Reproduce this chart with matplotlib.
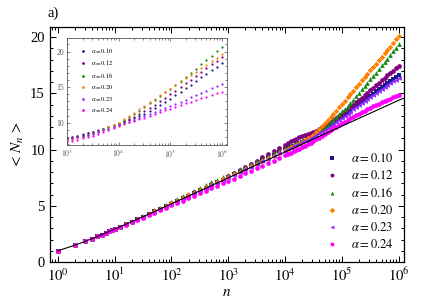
import numpy as np
import matplotlib
matplotlib.use("Agg")
import matplotlib.pyplot as plt
from matplotlib.ticker import LogLocator, MultipleLocator, NullFormatter

plt.rcParams['font.family'] = ['Liberation Serif', 'DejaVu Serif']
plt.rcParams['mathtext.fontset'] = 'stix'

# ---------------- data ----------------
alphas = ["0.10", "0.12", "0.16", "0.20", "0.23", "0.24"]
colors = ["#1a1a8c", "#800080", "#138a13", "#ff8000", "#8c2bff", "#ff00ff"]
markers = ["s", "o", "^", "D", "<", "o"]

# shared values at small n (all series coincide there)
n_small = [1, 2, 3, 4, 5, 6, 7, 8, 9, 10]
y_small = [1.0, 1.5, 1.83, 2.08, 2.28, 2.45, 2.59, 2.72, 2.83, 2.93]

# log10(n) sample points: 1.1 .. 3.9 (step 0.1) and 4.0 .. 6.0 (step 0.05)
log_lo = [1.1, 1.2, 1.3, 1.4, 1.5, 1.6, 1.7, 1.8, 1.9, 2.0,
          2.1, 2.2, 2.3, 2.4, 2.5, 2.6, 2.7, 2.8, 2.9, 3.0,
          3.1, 3.2, 3.3, 3.4, 3.5, 3.6, 3.7, 3.8, 3.9]
log_hi = [4.0, 4.05, 4.1, 4.15, 4.2, 4.25, 4.3, 4.35, 4.4, 4.45,
          4.5, 4.55, 4.6, 4.65, 4.7, 4.75, 4.8, 4.85, 4.9, 4.95,
          5.0, 5.05, 5.1, 5.15, 5.2, 5.25, 5.3, 5.35, 5.4, 5.45,
          5.5, 5.55, 5.6, 5.65, 5.7, 5.75, 5.8, 5.85, 5.9, 5.95, 6.0]

lo_010 = [3.12, 3.35, 3.58, 3.81, 4.04, 4.27, 4.50, 4.74, 4.97, 5.20,
          5.44, 5.67, 5.91, 6.14, 6.38, 6.62, 6.86, 7.10, 7.34, 7.58,
          7.82, 8.07, 8.32, 8.57, 8.82, 9.06, 9.30, 9.54, 9.78]
hi_010 = [10.01, 10.13, 10.24, 10.36, 10.47, 10.59, 10.70, 10.81, 10.93, 11.05,
          11.18, 11.32, 11.48, 11.65, 11.82, 12.0, 12.18, 12.36, 12.54, 12.72,
          12.9, 13.09, 13.28, 13.47, 13.66, 13.85, 14.04, 14.23, 14.42, 14.61,
          14.8, 14.99, 15.18, 15.37, 15.55, 15.74, 15.92, 16.11, 16.3, 16.48, 16.65]

lo_012 = [3.12, 3.35, 3.58, 3.81, 4.05, 4.28, 4.51, 4.75, 4.99, 5.23,
          5.47, 5.71, 5.95, 6.19, 6.43, 6.67, 6.91, 7.16, 7.41, 7.66,
          7.92, 8.18, 8.45, 8.73, 9.02, 9.30, 9.58, 9.87, 10.16]
hi_012 = [10.45, 10.59, 10.73, 10.86, 10.98, 11.08, 11.18, 11.27, 11.36, 11.45,
          11.55, 11.67, 11.8, 11.95, 12.1, 12.27, 12.45, 12.62, 12.8, 13.0,
          13.2, 13.4, 13.6, 13.8, 14.0, 14.2, 14.4, 14.62, 14.85, 15.07,
          15.3, 15.52, 15.75, 15.95, 16.15, 16.38, 16.6, 16.8, 17.0, 17.22, 17.45]

lo_016 = [3.14, 3.38, 3.62, 3.86, 4.10, 4.35, 4.59, 4.84, 5.08, 5.33,
          5.58, 5.83, 6.08, 6.33, 6.59, 6.84, 7.08, 7.31, 7.55, 7.78,
          8.01, 8.24, 8.48, 8.71, 8.95, 9.18, 9.42, 9.66, 9.90]
hi_016 = [10.14, 10.25, 10.37, 10.48, 10.60, 10.71, 10.82, 10.92, 11.03, 11.13,
          11.25, 11.41, 11.6, 11.8, 12.0, 12.22, 12.45, 12.67, 12.9, 13.15,
          13.4, 13.65, 13.9, 14.17, 14.45, 14.75, 15.05, 15.35, 15.65, 15.95,
          16.25, 16.55, 16.85, 17.17, 17.5, 17.8, 18.1, 18.42, 18.75, 19.07, 19.4]

lo_020 = [3.12, 3.35, 3.58, 3.82, 4.05, 4.28, 4.52, 4.75, 4.99, 5.22,
          5.46, 5.70, 5.93, 6.17, 6.41, 6.64, 6.88, 7.11, 7.35, 7.58,
          7.82, 8.05, 8.29, 8.52, 8.76, 8.99, 9.23, 9.46, 9.70]
hi_020 = [9.94, 10.06, 10.19, 10.32, 10.45, 10.58, 10.72, 10.86, 11.0, 11.15,
          11.32, 11.54, 11.8, 12.07, 12.35, 12.62, 12.9, 13.17, 13.45, 13.75,
          14.05, 14.35, 14.65, 14.95, 15.25, 15.55, 15.85, 16.15, 16.45, 16.75,
          17.05, 17.35, 17.65, 17.95, 18.25, 18.55, 18.85, 19.17, 19.5, 19.8, 20.1]

lo_023 = [3.11, 3.34, 3.57, 3.80, 4.03, 4.26, 4.49, 4.72, 4.96, 5.19,
          5.42, 5.65, 5.88, 6.12, 6.35, 6.58, 6.82, 7.05, 7.29, 7.52,
          7.76, 8.00, 8.24, 8.48, 8.72, 8.96, 9.20, 9.44, 9.68]
hi_023 = [9.92, 10.04, 10.16, 10.28, 10.40, 10.52, 10.64, 10.76, 10.89, 11.02,
          11.15, 11.29, 11.45, 11.61, 11.78, 11.95, 12.12, 12.29, 12.47, 12.65,
          12.83, 13.01, 13.2, 13.38, 13.57, 13.75, 13.94, 14.12, 14.3, 14.48,
          14.66, 14.84, 15.02, 15.2, 15.37, 15.55, 15.72, 15.89, 16.06, 16.23, 16.4]

lo_024 = [3.08, 3.30, 3.52, 3.74, 3.96, 4.18, 4.40, 4.61, 4.83, 5.04,
          5.26, 5.47, 5.69, 5.91, 6.13, 6.34, 6.56, 6.78, 7.00, 7.21,
          7.43, 7.65, 7.88, 8.11, 8.34, 8.57, 8.80, 9.03, 9.26]
hi_024 = [9.49, 9.61, 9.73, 9.85, 9.97, 10.09, 10.22, 10.35, 10.48, 10.61,
          10.75, 10.91, 11.07, 11.23, 11.4, 11.56, 11.72, 11.88, 12.03, 12.18,
          12.33, 12.48, 12.63, 12.78, 12.92, 13.06, 13.2, 13.34, 13.47, 13.6,
          13.73, 13.86, 13.98, 14.09, 14.2, 14.31, 14.42, 14.53, 14.64, 14.75, 14.85]

main_lo = [lo_010, lo_012, lo_016, lo_020, lo_023, lo_024]
main_hi = [hi_010, hi_012, hi_016, hi_020, hi_023, hi_024]

# black reference line
black_logn = [0.0, 0.301, 0.477, 0.602, 0.699, 0.778, 0.845, 0.903, 0.954, 1.0,
              1.5, 2.0, 2.5, 3.0, 3.5, 4.0, 4.5, 5.0, 5.5, 6.0, 6.1]
black_y = [1.0, 1.5, 1.83, 2.08, 2.28, 2.45, 2.59, 2.72, 2.83, 2.93,
           4.03, 5.18, 6.33, 7.48, 8.64, 9.79, 10.94, 12.09, 13.24, 14.39, 14.6]

# inset data
inset_logn = [3.0, 3.1, 3.2, 3.3, 3.4, 3.5, 3.6, 3.7, 3.8, 3.9,
              4.0, 4.1, 4.2, 4.3, 4.4, 4.5, 4.6, 4.7, 4.8, 4.9,
              5.0, 5.1, 5.2, 5.3, 5.4, 5.5, 5.6, 5.7, 5.8, 5.9, 6.0]
in_010 = [7.85, 8.02, 8.19, 8.36, 8.53, 8.70, 8.91, 9.13, 9.36, 9.58,
          9.80, 10.07, 10.36, 10.66, 10.97, 11.30, 11.68, 12.08, 12.49, 12.93,
          13.40, 13.88, 14.37, 14.87, 15.38, 15.90, 16.40, 16.90, 17.40, 17.90, 18.40]
in_012 = [7.90, 8.07, 8.23, 8.40, 8.57, 8.75, 8.97, 9.20, 9.43, 9.66,
          9.90, 10.20, 10.52, 10.85, 11.20, 11.70, 12.12, 12.56, 13.03, 13.50,
          14.00, 14.52, 15.04, 15.56, 16.08, 16.60, 17.13, 17.66, 18.19, 18.72, 19.25]
in_016 = [7.60, 7.79, 7.98, 8.17, 8.36, 8.55, 8.82, 9.10, 9.38, 9.66,
          9.95, 10.38, 10.82, 11.27, 11.73, 12.20, 12.72, 13.24, 13.76, 14.28,
          14.80, 15.35, 15.90, 16.45, 17.00, 17.60, 18.20, 18.80, 19.40, 20.03, 20.66]
in_020 = [7.50, 7.69, 7.88, 8.07, 8.26, 8.45, 8.76, 9.07, 9.38, 9.69,
          10.00, 10.48, 10.96, 11.44, 11.92, 12.40, 12.88, 13.36, 13.84, 14.32,
          14.80, 15.28, 15.76, 16.24, 16.72, 17.20, 17.68, 18.16, 18.64, 19.12, 19.60]
in_023 = [7.75, 7.89, 8.03, 8.17, 8.31, 8.45, 8.70, 8.95, 9.20, 9.45,
          9.70, 9.94, 10.18, 10.42, 10.66, 10.90, 11.18, 11.46, 11.74, 12.02,
          12.30, 12.62, 12.94, 13.26, 13.58, 13.90, 14.22, 14.54, 14.86, 15.18, 15.50]
in_024 = [7.30, 7.48, 7.66, 7.84, 8.02, 8.20, 8.48, 8.76, 9.04, 9.32,
          9.60, 9.83, 10.06, 10.29, 10.52, 10.75, 11.00, 11.25, 11.50, 11.75,
          12.00, 12.24, 12.48, 12.72, 12.96, 13.20, 13.44, 13.68, 13.92, 14.16, 14.40]
inset_series = [in_010, in_012, in_016, in_020, in_023, in_024]

xticks_main = [1, 10, 100, 1e3, 1e4, 1e5, 1e6]
xticklabels_main = [r'$10^{0}$', r'$10^{1}$', r'$10^{2}$', r'$10^{3}$', r'$10^{4}$', r'$10^{5}$', r'$10^{6}$']
yticks_main = [0, 5, 10, 15, 20]
xticks_inset = [1e3, 1e4, 1e5, 1e6]
xticklabels_inset = [r'$10^{3}$', r'$10^{4}$', r'$10^{5}$', r'$10^{6}$']
yticks_inset = [10, 15, 20]

# ---------------- figure ----------------
fig = plt.figure(figsize=(4.22, 3.04), dpi=100)
ax = fig.add_axes([0.118, 0.138, 0.839, 0.773])

msizes = {"s": 3.0, "o": 3.4, "^": 3.4, "D": 2.8, "<": 3.4}
for a, c, m, ylo, yhi in zip(alphas, colors, markers, main_lo, main_hi):
    xs = list(n_small) + [10 ** v for v in log_lo] + [10 ** v for v in log_hi]
    yy = list(y_small) + list(ylo) + list(yhi)
    ax.plot(xs, yy, linestyle='none', marker=m, color=c, markersize=msizes[m],
            markeredgewidth=0, label=r'$\alpha = %s$' % a)

ax.plot([10 ** v for v in black_logn], black_y, color='black', lw=0.8, zorder=5)

ax.set_xscale('log')
ax.set_xlim(10 ** -0.14, 10 ** 6.09)
ax.set_ylim(0, 20.9)
ax.set_xticks(xticks_main)
ax.set_xticklabels(xticklabels_main)
ax.xaxis.set_minor_locator(LogLocator(base=10, subs=np.arange(2, 10), numticks=20))
ax.xaxis.set_minor_formatter(NullFormatter())
ax.set_yticks(yticks_main)
ax.yaxis.set_minor_locator(MultipleLocator(1))
ax.tick_params(which='both', direction='in', top=True, right=True, labelsize=10.5, width=0.7)
ax.tick_params(which='major', length=4)
ax.tick_params(which='minor', length=2)
for s in ax.spines.values():
    s.set_linewidth(0.9)
ax.set_xlabel(r'$n$', fontsize=11, labelpad=1)
ax.set_ylabel(r'$<\,N_n\,>$', fontsize=11, labelpad=3)

leg = ax.legend(loc='lower right', frameon=False, fontsize=9, handlelength=0.8,
                handletextpad=1.1, labelspacing=0.32, borderaxespad=0.0,
                bbox_to_anchor=(0.985, 0.025))
for h in leg.legend_handles:
    h.set_markersize(2.8)

fig.text(0.113, 0.945, 'a)', fontsize=10.5)

# ---------------- inset ----------------
ax2 = fig.add_axes([0.159, 0.523, 0.379, 0.352])
for a, c, ys in zip(alphas, colors, inset_series):
    ax2.plot([10 ** v for v in inset_logn], ys, linestyle='none', marker='o', color=c,
             markersize=1.6, markeredgewidth=0, label=r'$\alpha = %s$' % a)
ax2.set_xscale('log')
ax2.set_xlim(1e3, 10 ** 6.1)
ax2.set_ylim(6.9, 21.9)
ax2.set_xticks(xticks_inset)
ax2.set_xticklabels(xticklabels_inset)
ax2.xaxis.set_minor_locator(LogLocator(base=10, subs=np.arange(2, 10), numticks=20))
ax2.xaxis.set_minor_formatter(NullFormatter())
ax2.set_yticks(yticks_inset)
ax2.yaxis.set_minor_locator(MultipleLocator(1))
ax2.tick_params(which='both', direction='in', top=True, right=True, labelsize=5.5, width=0.5,
                colors='#555555', pad=2)
ax2.tick_params(which='major', length=2.5)
ax2.tick_params(which='minor', length=1.3)
for s in ax2.spines.values():
    s.set_linewidth(0.6)
    s.set_color('#555555')
leg2 = ax2.legend(loc='upper left', frameon=False, fontsize=4.6, handlelength=0.6,
                  handletextpad=1.0, labelspacing=0.55, borderaxespad=0.0,
                  bbox_to_anchor=(0.07, 0.95))
for h in leg2.legend_handles:
    h.set_markersize(2)

fig.savefig('out.png', dpi=100)
